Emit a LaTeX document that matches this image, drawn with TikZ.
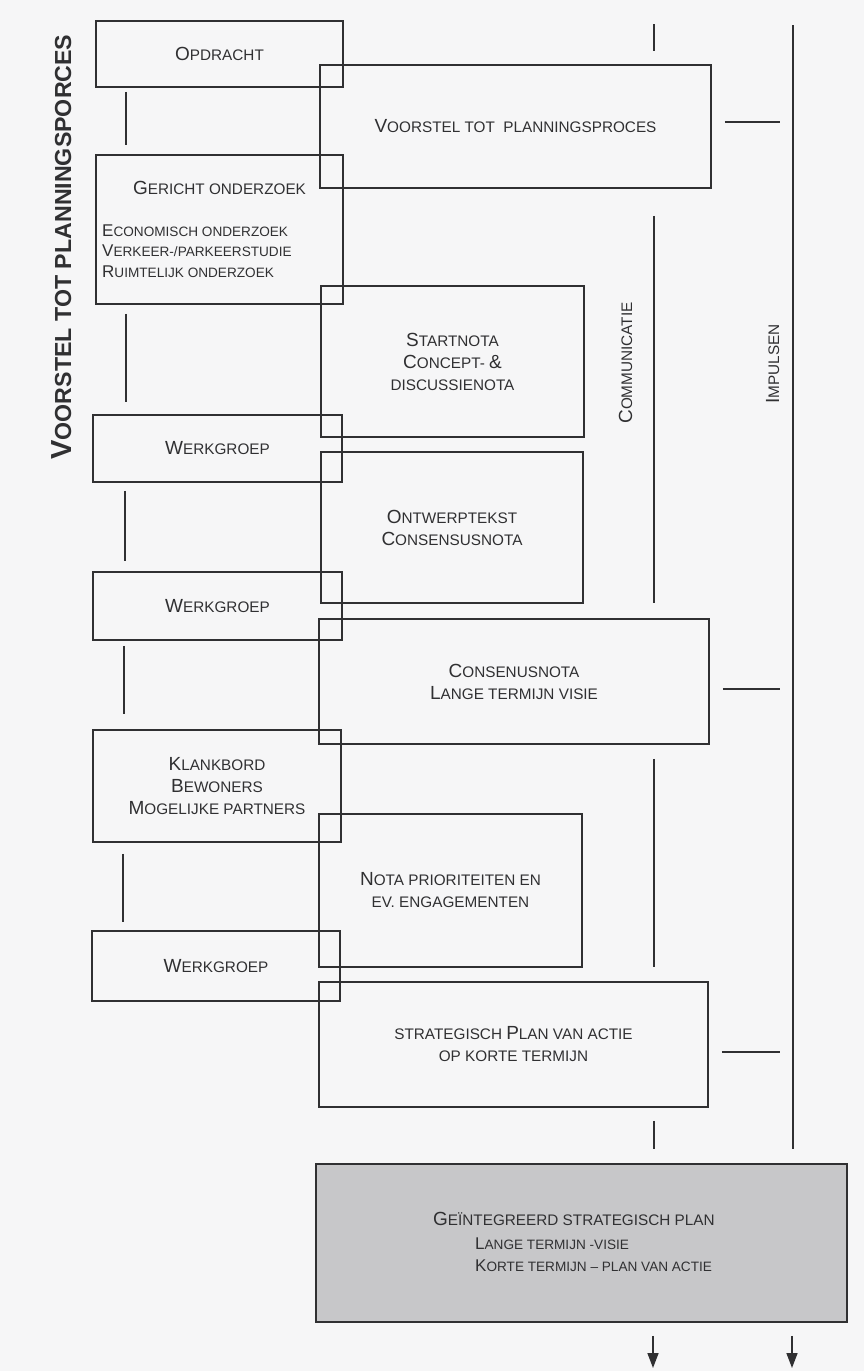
\documentclass[tikz,border=0pt]{standalone}
\usepackage{fontspec}
\setmainfont{Liberation Sans}
\usetikzlibrary{arrows.meta}

\definecolor{paper}{RGB}{246,246,247}
\definecolor{ink}{RGB}{48,48,50}
\definecolor{shade}{RGB}{199,199,201}

% small-caps look: large initial capitals, smaller capitals for the rest
\newcommand\BL[1]{{\fontsize{19}{22}\selectfont #1}}
\newcommand\BS[1]{{\fontsize{17}{20}\selectfont #1}}
\newcommand\BT[1]{{\fontsize{29}{30}\selectfont #1}}

\tikzset{
  box/.style={draw=ink, line width=1.6pt, rectangle, inner sep=0pt,
    align=center, text=ink, font=\fontsize{15.3}{22}\selectfont},
  graybox/.style={box, fill=shade},
  txt/.style={text=ink, inner sep=0pt, font=\fontsize{15.3}{22}\selectfont},
  subtxt/.style={text=ink, inner sep=0pt, font=\fontsize{13.6}{20}\selectfont},
  link/.style={draw=ink, line width=1.6pt},
  flow/.style={draw=ink, line width=1.6pt, -{Triangle[length=15pt,width=11pt]}},
}

\begin{document}
\begin{tikzpicture}[x=1pt,y=-1pt]
\useasboundingbox (0,0) rectangle (864,1371);
\fill[paper] (0,0) rectangle (864,1371);

% vertical title
\node[rotate=90, anchor=base, text=ink, inner sep=0pt,
      font=\bfseries\fontsize{23.2}{26}\selectfont] (title) at (71,247)
      {\BT{V}OORSTEL TOT PLANNINGSPORCES};

% left column
\node[box, minimum width=247pt, minimum height=66pt]  (opd) at (219.5,54) {\BL{O}PDRACHT};
\node[box, minimum width=247pt, minimum height=149pt] (ger) at (219.5,229.5) {};
\node[txt] (gerT) at (219.5,188) {\BL{G}ERICHT ONDERZOEK};
\node[subtxt, anchor=base west] (ger1) at (102,236) {\BS{E}CONOMISCH ONDERZOEK};
\node[subtxt, anchor=base west] (ger2) at (102,256) {\BS{V}ERKEER-/PARKEERSTUDIE};
\node[subtxt, anchor=base west] (ger3) at (102,277) {\BS{R}UIMTELIJK ONDERZOEK};
\node[box, minimum width=249pt, minimum height=67pt]  (wg1) at (217.5,448.5) {\BL{W}ERKGROEP};
\node[box, minimum width=249pt, minimum height=68pt]  (wg2) at (217.5,606) {\BL{W}ERKGROEP};
\node[box, minimum width=248pt, minimum height=112pt] (kb)  at (217,786)
  {\BL{K}LANKBORD\\\BL{B}EWONERS\\\BL{M}OGELIJKE PARTNERS};
\node[box, minimum width=248pt, minimum height=70pt]  (wg3) at (216,966) {\BL{W}ERKGROEP};

% right column
\node[box, minimum width=391pt, minimum height=123pt] (vs) at (515.5,126.5)
  {\BL{V}OORSTEL TOT\ \ PLANNINGSPROCES};
\node[box, minimum width=263pt, minimum height=151pt] (sn) at (452.5,361.5)
  {\BL{S}TARTNOTA\\\BL{C}ONCEPT- \BL{\&}\\DISCUSSIENOTA};
\node[box, minimum width=262pt, minimum height=151pt] (ot) at (452,527.5)
  {\BL{O}NTWERPTEKST\\\BL{C}ONSENSUSNOTA};
\node[box, minimum width=390pt, minimum height=125pt] (cn) at (514,681.5)
  {\BL{C}ONSENUSNOTA\\\BL{L}ANGE TERMIJN VISIE};
\node[box, minimum width=263pt, minimum height=153pt] (np) at (450.5,890.5)
  {\BL{N}OTA PRIORITEITEN EN\\EV. ENGAGEMENTEN};
\node[box, minimum width=389pt, minimum height=125pt] (sp) at (513.5,1044.5)
  {STRATEGISCH \BL{P}LAN VAN ACTIE\\OP KORTE TERMIJN};
\node[graybox, minimum width=531pt, minimum height=158pt] (gp) at (581.5,1243) {};
\node[txt, anchor=base west] (gp1) at (433,1225) {\BL{G}EÏNTEGREERD STRATEGISCH PLAN};
\node[subtxt, anchor=base west] (gp2) at (475,1249) {\BS{L}ANGE TERMIJN -VISIE};
\node[subtxt, anchor=base west] (gp3) at (475,1271) {\BS{K}ORTE TERMIJN – PLAN VAN ACTIE};

% links down the left column
\draw[link] ([xshift=31pt,yshift=-4pt]opd.south west) -- ([xshift=31pt,yshift=9pt]ger.north west);
\draw[link] ([xshift=31pt,yshift=-9pt]ger.south west) -- ([xshift=34pt,yshift=12pt]wg1.north west);
\draw[link] ([xshift=33pt,yshift=-8pt]wg1.south west) -- ([xshift=33pt,yshift=10pt]wg2.north west);
\draw[link] ([xshift=32pt,yshift=-5pt]wg2.south west) -- ([xshift=32pt,yshift=15pt]kb.north west);
\draw[link] ([xshift=31pt,yshift=-11pt]kb.south west) -- ([xshift=32pt,yshift=8pt]wg3.north west);

% communication track
\coordinate (comtop) at (654,24);
\coordinate (comend) at (653,1368);
\draw[link] (comtop) -- ([yshift=13pt]vs.north -| comtop);
\draw[link] ([yshift=-27pt]vs.south -| comtop) -- ([yshift=15pt]cn.north -| comtop);
\draw[link] ([yshift=-14pt]cn.south -| comtop) -- ([yshift=14pt]sp.north -| comtop);
\draw[link] ([yshift=-13pt]sp.south -| comtop) -- ([yshift=14pt]gp.north -| comtop);
\draw[flow] ([yshift=-13pt]gp.south -| comend) -- (comend);
\node[txt, rotate=90, anchor=base] (com) at (632,363) {\BL{C}OMMUNICATIE};

% impulse track
\coordinate (imptop) at (793,25);
\coordinate (impend) at (792,1368);
\draw[link] (imptop) -- ([yshift=14pt]gp.north -| imptop);
\draw[flow] ([yshift=-13pt]gp.south -| impend) -- (impend);
\node[txt, rotate=90, anchor=base] (imp) at (779,364) {\BL{I}MPULSEN};

% ticks from the main documents towards the impulse track
\draw[link] ([xshift=13pt]vs.east |- 0,122) -- ([xshift=-13pt]imptop |- 0,122);
\draw[link] ([xshift=13pt]cn.east |- 0,689) -- ([xshift=-13pt]imptop |- 0,689);
\draw[link] ([xshift=13pt]sp.east |- 0,1052) -- ([xshift=-13pt]imptop |- 0,1052);
\end{tikzpicture}
\end{document}
